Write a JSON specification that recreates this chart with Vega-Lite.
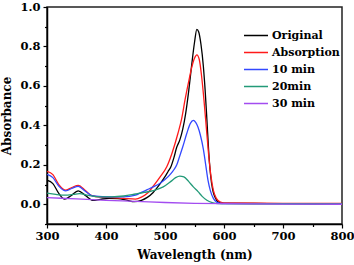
{
  "$schema": "https://vega.github.io/schema/vega-lite/v6.json",
  "autosize": {"type": "none"},
  "padding": {"left": 47, "top": 7, "right": 12, "bottom": 41},
  "width": 295,
  "height": 217,
  "config": {
    "view": {"stroke": "#222", "strokeWidth": 1.5},
    "font": "DejaVu Serif"
  },
  "datasets": {
    "spectra": [
      {"wl": 300, "abs": 0.122, "s": "Original"},
      {"wl": 310, "abs": 0.105, "s": "Original"},
      {"wl": 320, "abs": 0.055, "s": "Original"},
      {"wl": 330, "abs": 0.026, "s": "Original"},
      {"wl": 340, "abs": 0.042, "s": "Original"},
      {"wl": 353, "abs": 0.068, "s": "Original"},
      {"wl": 365, "abs": 0.045, "s": "Original"},
      {"wl": 378, "abs": 0.02, "s": "Original"},
      {"wl": 390, "abs": 0.025, "s": "Original"},
      {"wl": 405, "abs": 0.03, "s": "Original"},
      {"wl": 420, "abs": 0.029, "s": "Original"},
      {"wl": 435, "abs": 0.021, "s": "Original"},
      {"wl": 448, "abs": 0.013, "s": "Original"},
      {"wl": 460, "abs": 0.02, "s": "Original"},
      {"wl": 470, "abs": 0.035, "s": "Original"},
      {"wl": 480, "abs": 0.06, "s": "Original"},
      {"wl": 490, "abs": 0.097, "s": "Original"},
      {"wl": 500, "abs": 0.14, "s": "Original"},
      {"wl": 505, "abs": 0.165, "s": "Original"},
      {"wl": 510, "abs": 0.19, "s": "Original"},
      {"wl": 515, "abs": 0.235, "s": "Original"},
      {"wl": 520, "abs": 0.29, "s": "Original"},
      {"wl": 525, "abs": 0.325, "s": "Original"},
      {"wl": 530, "abs": 0.38, "s": "Original"},
      {"wl": 535, "abs": 0.46, "s": "Original"},
      {"wl": 540, "abs": 0.57, "s": "Original"},
      {"wl": 545, "abs": 0.7, "s": "Original"},
      {"wl": 550, "abs": 0.82, "s": "Original"},
      {"wl": 554, "abs": 0.887, "s": "Original"},
      {"wl": 557, "abs": 0.875, "s": "Original"},
      {"wl": 561, "abs": 0.81, "s": "Original"},
      {"wl": 565, "abs": 0.7, "s": "Original"},
      {"wl": 568, "abs": 0.58, "s": "Original"},
      {"wl": 571, "abs": 0.43, "s": "Original"},
      {"wl": 574, "abs": 0.27, "s": "Original"},
      {"wl": 577, "abs": 0.155, "s": "Original"},
      {"wl": 581, "abs": 0.07, "s": "Original"},
      {"wl": 585, "abs": 0.035, "s": "Original"},
      {"wl": 590, "abs": 0.012, "s": "Original"},
      {"wl": 597, "abs": 0.005, "s": "Original"},
      {"wl": 650, "abs": 0.004, "s": "Original"},
      {"wl": 700, "abs": 0.003, "s": "Original"},
      {"wl": 800, "abs": 0.002, "s": "Original"},

      {"wl": 300, "abs": 0.167, "s": "Absorption"},
      {"wl": 310, "abs": 0.15, "s": "Absorption"},
      {"wl": 320, "abs": 0.1, "s": "Absorption"},
      {"wl": 332, "abs": 0.072, "s": "Absorption"},
      {"wl": 342, "abs": 0.085, "s": "Absorption"},
      {"wl": 353, "abs": 0.096, "s": "Absorption"},
      {"wl": 365, "abs": 0.07, "s": "Absorption"},
      {"wl": 375, "abs": 0.045, "s": "Absorption"},
      {"wl": 390, "abs": 0.036, "s": "Absorption"},
      {"wl": 410, "abs": 0.034, "s": "Absorption"},
      {"wl": 430, "abs": 0.03, "s": "Absorption"},
      {"wl": 450, "abs": 0.026, "s": "Absorption"},
      {"wl": 460, "abs": 0.036, "s": "Absorption"},
      {"wl": 470, "abs": 0.056, "s": "Absorption"},
      {"wl": 483, "abs": 0.103, "s": "Absorption"},
      {"wl": 492, "abs": 0.14, "s": "Absorption"},
      {"wl": 503, "abs": 0.19, "s": "Absorption"},
      {"wl": 512, "abs": 0.26, "s": "Absorption"},
      {"wl": 522, "abs": 0.36, "s": "Absorption"},
      {"wl": 528, "abs": 0.43, "s": "Absorption"},
      {"wl": 534, "abs": 0.53, "s": "Absorption"},
      {"wl": 540, "abs": 0.62, "s": "Absorption"},
      {"wl": 545, "abs": 0.69, "s": "Absorption"},
      {"wl": 550, "abs": 0.74, "s": "Absorption"},
      {"wl": 554, "abs": 0.757, "s": "Absorption"},
      {"wl": 558, "abs": 0.735, "s": "Absorption"},
      {"wl": 562, "abs": 0.65, "s": "Absorption"},
      {"wl": 566, "abs": 0.53, "s": "Absorption"},
      {"wl": 570, "abs": 0.39, "s": "Absorption"},
      {"wl": 574, "abs": 0.25, "s": "Absorption"},
      {"wl": 578, "abs": 0.14, "s": "Absorption"},
      {"wl": 582, "abs": 0.07, "s": "Absorption"},
      {"wl": 587, "abs": 0.03, "s": "Absorption"},
      {"wl": 594, "abs": 0.011, "s": "Absorption"},
      {"wl": 600, "abs": 0.007, "s": "Absorption"},
      {"wl": 700, "abs": 0.005, "s": "Absorption"},
      {"wl": 800, "abs": 0.004, "s": "Absorption"},

      {"wl": 300, "abs": 0.152, "s": "10 min"},
      {"wl": 310, "abs": 0.135, "s": "10 min"},
      {"wl": 320, "abs": 0.092, "s": "10 min"},
      {"wl": 332, "abs": 0.068, "s": "10 min"},
      {"wl": 342, "abs": 0.08, "s": "10 min"},
      {"wl": 353, "abs": 0.091, "s": "10 min"},
      {"wl": 365, "abs": 0.066, "s": "10 min"},
      {"wl": 378, "abs": 0.042, "s": "10 min"},
      {"wl": 400, "abs": 0.038, "s": "10 min"},
      {"wl": 430, "abs": 0.037, "s": "10 min"},
      {"wl": 450, "abs": 0.046, "s": "10 min"},
      {"wl": 460, "abs": 0.06, "s": "10 min"},
      {"wl": 470, "abs": 0.074, "s": "10 min"},
      {"wl": 480, "abs": 0.088, "s": "10 min"},
      {"wl": 491, "abs": 0.105, "s": "10 min"},
      {"wl": 500, "abs": 0.125, "s": "10 min"},
      {"wl": 510, "abs": 0.155, "s": "10 min"},
      {"wl": 515, "abs": 0.175, "s": "10 min"},
      {"wl": 520, "abs": 0.2, "s": "10 min"},
      {"wl": 525, "abs": 0.245, "s": "10 min"},
      {"wl": 530, "abs": 0.29, "s": "10 min"},
      {"wl": 537, "abs": 0.36, "s": "10 min"},
      {"wl": 543, "abs": 0.41, "s": "10 min"},
      {"wl": 548, "abs": 0.425, "s": "10 min"},
      {"wl": 552, "abs": 0.415, "s": "10 min"},
      {"wl": 556, "abs": 0.39, "s": "10 min"},
      {"wl": 560, "abs": 0.35, "s": "10 min"},
      {"wl": 565, "abs": 0.28, "s": "10 min"},
      {"wl": 569, "abs": 0.2, "s": "10 min"},
      {"wl": 573, "abs": 0.12, "s": "10 min"},
      {"wl": 577, "abs": 0.068, "s": "10 min"},
      {"wl": 582, "abs": 0.03, "s": "10 min"},
      {"wl": 588, "abs": 0.01, "s": "10 min"},
      {"wl": 596, "abs": 0.004, "s": "10 min"},
      {"wl": 700, "abs": 0.003, "s": "10 min"},
      {"wl": 800, "abs": 0.002, "s": "10 min"},

      {"wl": 300, "abs": 0.057, "s": "20min"},
      {"wl": 315, "abs": 0.05, "s": "20min"},
      {"wl": 330, "abs": 0.046, "s": "20min"},
      {"wl": 345, "abs": 0.05, "s": "20min"},
      {"wl": 355, "abs": 0.054, "s": "20min"},
      {"wl": 370, "abs": 0.045, "s": "20min"},
      {"wl": 390, "abs": 0.038, "s": "20min"},
      {"wl": 410, "abs": 0.038, "s": "20min"},
      {"wl": 430, "abs": 0.042, "s": "20min"},
      {"wl": 450, "abs": 0.052, "s": "20min"},
      {"wl": 465, "abs": 0.06, "s": "20min"},
      {"wl": 480, "abs": 0.069, "s": "20min"},
      {"wl": 497, "abs": 0.088, "s": "20min"},
      {"wl": 510, "abs": 0.116, "s": "20min"},
      {"wl": 518, "abs": 0.135, "s": "20min"},
      {"wl": 525, "abs": 0.143, "s": "20min"},
      {"wl": 532, "abs": 0.139, "s": "20min"},
      {"wl": 540, "abs": 0.116, "s": "20min"},
      {"wl": 548, "abs": 0.088, "s": "20min"},
      {"wl": 556, "abs": 0.064, "s": "20min"},
      {"wl": 563, "abs": 0.04, "s": "20min"},
      {"wl": 571, "abs": 0.02, "s": "20min"},
      {"wl": 580, "abs": 0.008, "s": "20min"},
      {"wl": 590, "abs": 0.003, "s": "20min"},
      {"wl": 800, "abs": 0.002, "s": "20min"},

      {"wl": 300, "abs": 0.034, "s": "30 min"},
      {"wl": 350, "abs": 0.027, "s": "30 min"},
      {"wl": 400, "abs": 0.02, "s": "30 min"},
      {"wl": 450, "abs": 0.015, "s": "30 min"},
      {"wl": 500, "abs": 0.009, "s": "30 min"},
      {"wl": 550, "abs": 0.005, "s": "30 min"},
      {"wl": 600, "abs": 0.003, "s": "30 min"},
      {"wl": 700, "abs": 0.001, "s": "30 min"},
      {"wl": 800, "abs": 0.0, "s": "30 min"}
    ]
  },
  "data": {"name": "spectra"},
  "resolve": {"axis": {"x": "independent", "y": "independent"}},
  "layer": [
    {
      "mark": {"type": "line", "strokeWidth": 1.3, "interpolate": "monotone", "clip": true},
      "encoding": {
        "x": {
          "field": "wl", "type": "quantitative",
          "scale": {"domain": [300, 800], "nice": false},
          "axis": {
            "orient": "bottom",
            "values": [300, 400, 500, 600, 700, 800],
            "title": "Wavelength (nm)",
            "titleFont": "DejaVu Serif", "titleFontSize": 12, "titleFontWeight": "bold", "titleColor": "#000",
            "titlePadding": 8,
            "labelFont": "DejaVu Serif", "labelFontSize": 11.5, "labelFontWeight": "bold", "labelColor": "#000",
            "labelPadding": 2,
            "tickSize": 4, "tickColor": "#000", "tickWidth": 1.2,
            "domainColor": "#000", "domainWidth": 1.5,
            "grid": false, "labelFlush": false
          }
        },
        "y": {
          "field": "abs", "type": "quantitative",
          "scale": {"domain": [-0.1, 1.0], "nice": false, "zero": false},
          "axis": {
            "orient": "left",
            "values": [0, 0.2, 0.4, 0.6, 0.8, 1.0],
            "format": ".1f",
            "title": "Absorbance",
            "titleFont": "DejaVu Serif", "titleFontSize": 12, "titleFontWeight": "bold", "titleColor": "#000",
            "titlePadding": 6,
            "labelFont": "DejaVu Serif", "labelFontSize": 11.5, "labelFontWeight": "bold", "labelColor": "#000",
            "labelPadding": 3,
            "tickSize": 4, "tickColor": "#000", "tickWidth": 1.2,
            "domainColor": "#000", "domainWidth": 1.5,
            "grid": false, "labelFlush": false
          }
        },
        "color": {
          "field": "s", "type": "nominal",
          "scale": {
            "domain": ["Original", "Absorption", "10 min", "20min", "30 min"],
            "range": ["#000000", "#ff1a1a", "#3348ff", "#239a78", "#a34cf0"]
          },
          "legend": {
            "title": null,
            "orient": "none",
            "legendX": 196,
            "legendY": 20,
            "symbolType": "stroke",
            "symbolSize": 576,
            "symbolStrokeWidth": 1.5,
            "labelFont": "DejaVu Serif", "labelFontSize": 11, "labelFontWeight": "bold", "labelColor": "#000",
            "labelOffset": 3,
            "clipHeight": 17,
            "rowPadding": 0
          }
        }
      }
    },
    {
      "mark": {"type": "line", "strokeOpacity": 0},
      "encoding": {
        "x": {
          "field": "wl", "type": "quantitative",
          "axis": {
            "orient": "bottom", "values": [350, 450, 550, 650, 750],
            "labels": false, "domain": false, "grid": false, "title": null,
            "tickSize": 2.5, "tickColor": "#000", "tickWidth": 1.2
          }
        },
        "y": {
          "field": "abs", "type": "quantitative",
          "axis": {
            "orient": "left", "values": [-0.1, 0.1, 0.3, 0.5, 0.7, 0.9],
            "labels": false, "domain": false, "grid": false, "title": null,
            "tickSize": 2.5, "tickColor": "#000", "tickWidth": 1.2
          }
        },
        "detail": {"field": "s", "type": "nominal"}
      }
    }
  ]
}
